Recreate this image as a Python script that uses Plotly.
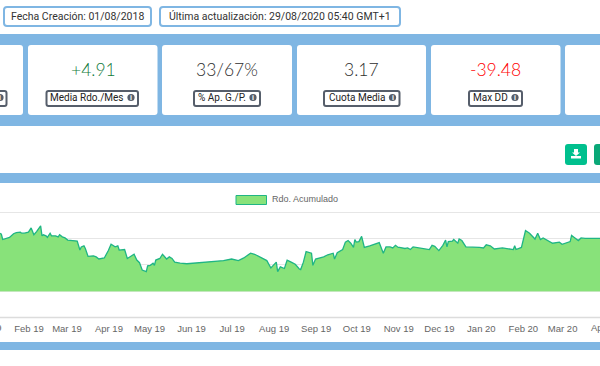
import pandas as pd
import plotly.graph_objects as go

W, H = 600, 366
start_date = "2019-01-10 14:00"
series_name = "Rdo. Acumulado"
days_since_start = [0,1,2,5,7,10,12,15,16,18,21,23,25,27,30,31,32,34,35,37,38,41,43,44,46,48,50,57,59,60,62,63,65,69,71,73,77,80,82,85,87,88,92,94,96,99,101,103,105,108,109,111,113,114,115,118,120,122,123,125,127,129,133,138,143,148,
156,165,171,176,180,185,188,192,197,200,204,205,207,210,212,215,218,221,222,224,226,230,231,233,239,242,246,247,249,253,255,257,259,261,262,263,265,267,269,273,277,280,283,285,288,290,292,294,
295,299,301,303,305,310,314,317,319,321,324,327,329,330,331,334,335,338,339,341,344,348,354,357,359,362,365,371,379,380,381,385,388,391,395,397,399,401,405,408,413,415,421,422,424,427,429,432,443]
cumulative = [110,108,98,100,102,109,111,112,110,110,112,120,107,113,124,105,107,105,102,110,105,105,103,107,103,101,97,95,78,84,86,81,66,67,65,61,63,77,89,84,86,78,79,62,65,70,59,54,40,37,48,49,53,49,59,62,70,64,61,65,62,55,53,52,53,55,
56,58,61,58,63,72,70,65,58,44,55,37,46,43,59,55,51,42,41,55,75,72,49,61,65,69,72,61,73,79,93,96,91,83,98,93,94,104,83,86,89,92,72,84,84,82,87,83,
83,81,82,79,84,82,80,79,87,85,77,87,97,84,94,95,98,91,99,96,84,84,83,82,88,86,80,82,79,86,79,83,115,110,99,110,98,101,96,91,93,89,94,106,102,96,101,100,100]
tick_dates = ["2019-02-01","2019-03-01","2019-04-01","2019-05-01","2019-06-01","2019-07-01","2019-08-01","2019-09-01","2019-10-01","2019-11-01","2019-12-01","2020-01-01","2020-02-01","2020-03-01"]
tick_labels = ["Feb 19","Mar 19","Apr 19","May 19","Jun 19","Jul 19","Aug 19","Sep 19","Oct 19","Nov 19","Dec 19","Jan 20","Feb 20","Mar 20"]
y_ticks = [-50, 0, 50, 100, 150]
top_badges = ["Fecha Creación: 01/08/2018", "Última actualización: 29/08/2020 05:40 GMT+1"]
kpi_values = ["+4.91", "33/67%", "3.17", "-39.48"]
kpi_labels = ["Media Rdo./Mes", "% Ap. G./P.", "Cuota Media", "Max DD"]
kpi_colors = ["#0f7a3a", "#2e2e2e", "#2e2e2e", "#ff0000"]

BLUE = "#7fb6e3"
DARK = "#565e6b"
FONT = "Liberation Sans"
CARD_FONT = "Roboto"


def px(x):
    return x / W


def py(y):
    return 1 - y / H


def rrect(x0, y0, x1, y1, r=3):
    X0, X1, Y0, Y1 = px(x0), px(x1), py(y0), py(y1)
    rx, ry = r / W, r / H
    return (f"M{X0+rx},{Y0} L{X1-rx},{Y0} Q{X1},{Y0} {X1},{Y0-ry} L{X1},{Y1+ry} Q{X1},{Y1} {X1-rx},{Y1} "
            f"L{X0+rx},{Y1} Q{X0},{Y1} {X0},{Y1+ry} L{X0},{Y0-ry} Q{X0},{Y0} {X0+rx},{Y0} Z")


shapes, annotations = [], []


def box(x0, y0, x1, y1, fill, line=None, lw=0, r=3, layer="below"):
    shapes.append(dict(type="path", path=rrect(x0, y0, x1, y1, r), xref="paper", yref="paper",
                       fillcolor=fill, line=dict(color=line or fill, width=lw), layer=layer))


def text(x, y, s, size, color, anchor="center", font=FONT):
    annotations.append(dict(x=px(x), y=py(y), xref="paper", yref="paper", text=s, showarrow=False,
                            xanchor=anchor, yanchor="middle", align=anchor,
                            font=dict(family=font, size=size, color=color)))


def info_icon(cx, cy):
    shapes.append(dict(type="circle", xref="paper", yref="paper", x0=px(cx-3.6), x1=px(cx+3.6),
                       y0=py(cy+3.6), y1=py(cy-3.6), fillcolor=DARK, line=dict(width=0)))
    text(cx, cy, "<b>i</b>", 7, "white")


# page bands
for y0, y1 in [(34, 126), (173, 183), (342, 350)]:
    shapes.append(dict(type="rect", xref="paper", yref="paper", x0=0, x1=1, y0=py(y1), y1=py(y0),
                       fillcolor=BLUE, line=dict(width=0), layer="below"))

# top badges
badge_x = [(4, 151), (160, 400)]
for (x0, x1), s in zip(badge_x, top_badges):
    box(x0, 7, x1, 26, "white", BLUE, 2)
    text((x0 + x1) / 2, 16.5, s, 10.5, "#333333", font=CARD_FONT)

# KPI cards
for x0, x1 in [(-10, 23), (28, 157.5), (162, 292), (297, 426), (431, 560.5), (565, 610)]:
    box(x0, 45, x1, 115, "white")
centers = [93, 227, 361.5, 495.5]
label_boxes = [(46.5, 138), (194, 260), (324, 399.5), (469, 522)]
for c, v, l, col, (bx0, bx1) in zip(centers, kpi_values, kpi_labels, kpi_colors, label_boxes):
    text(c, 69, v, 17.5, col, font="Lato Light, Lato")
    box(bx0, 91, bx1, 106, "white", DARK, 2, r=2)
    text((bx0 + bx1) / 2 - 5, 97.5, l, 10, "#222222", font=CARD_FONT)
    info_icon(bx1 - 7, 97.5)
# clipped label box on the first card
box(-10, 91, 6.5, 106, "white", DARK, 2, r=2)
info_icon(0, 97.5)

# buttons
box(565, 144, 587, 165, "#00c08e")
box(594, 144, 612, 165, "#0aa878")
shapes.append(dict(type="path", xref="paper", yref="paper", fillcolor="white", line=dict(width=0),
                   path=f"M{px(574)},{py(149)} L{px(578)},{py(149)} L{px(578)},{py(152.5)} L{px(580)},{py(152.5)} "
                        f"L{px(576)},{py(156)} L{px(572)},{py(152.5)} L{px(574)},{py(152.5)} Z"))
shapes.append(dict(type="rect", xref="paper", yref="paper", x0=px(571), x1=px(581), y0=py(158.5), y1=py(156),
                   fillcolor="white", line=dict(width=0)))

# legend
shapes.append(dict(type="rect", xref="paper", yref="paper", x0=px(236), x1=px(266.5), y0=py(204.5), y1=py(195.5),
                   fillcolor="#88e27a", line=dict(color="#1fb584", width=1)))
text(269.5, 198.5, series_name, 9, "#666666", anchor="left")

# axis base line
shapes.append(dict(type="line", xref="paper", yref="paper", x0=0, x1=1, y0=py(317.5), y1=py(317.5),
                   line=dict(color="#dcdcdc", width=1.5), layer="below"))

# tick labels whose centre lies just outside the visible window
text(-13, 327.5, "Jan 19", 9.5, "#666666")
text(605, 327.5, "Apr 20", 9.5, "#666666")

dates = pd.Timestamp(start_date) + pd.to_timedelta(days_since_start, unit="D")
fig = go.Figure(go.Scatter(x=dates, y=cumulative, mode="lines", name=series_name, fill="tozeroy",
                           fillcolor="#88e27a", line=dict(color="#1fb584", width=1.3), showlegend=False))
fig.update_layout(
    width=W, height=H, margin=dict(l=0, r=0, t=0, b=0), paper_bgcolor="white", plot_bgcolor="white",
    shapes=shapes, annotations=annotations, showlegend=False,
    xaxis=dict(type="date", range=[dates[0], dates[-1]], tickmode="array", tickvals=tick_dates, ticktext=tick_labels,
               showgrid=False, ticks="", showline=False, zeroline=False,
               tickfont=dict(family=FONT, size=9.5, color="#666666"), ticklabelstandoff=4),
    yaxis=dict(domain=[py(317.5), py(210)], range=[-50, 154], tickvals=y_ticks, showticklabels=False,
               gridcolor="#e6e6e6", gridwidth=1, zeroline=True, zerolinecolor="#d8e8d4", zerolinewidth=2,
               ticks="", showline=False),
)
fig.write_html("out.html", config={"displayModeBar": False},
               post_script="document.body.style.margin='0';document.body.style.overflow='hidden';")
